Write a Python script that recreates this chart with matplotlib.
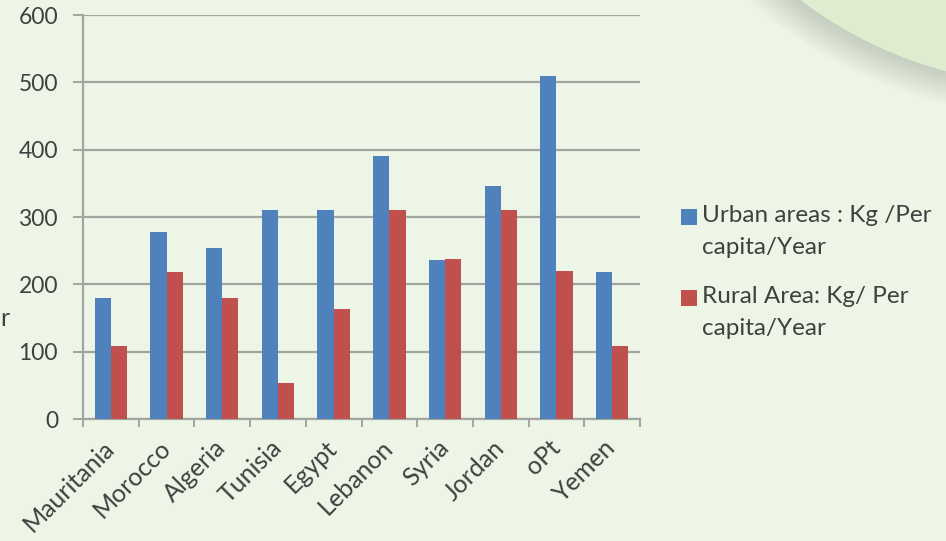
import matplotlib
matplotlib.use("Agg")
import matplotlib.pyplot as plt
import numpy as np
from matplotlib.patches import Circle, Rectangle

countries = ["Mauritania", "Morocco", "Algeria", "Tunisia", "Egypt",
             "Lebanon", "Syria", "Jordan", "oPt", "Yemen"]
urban = [180, 277, 254, 310, 310, 391, 236, 346, 510, 219]
rural = [109, 219, 180, 53, 163, 310, 238, 310, 220, 109]
series_names = ["Urban areas : Kg /Per\ncapita/Year",
                "Rural Area: Kg/ Per\ncapita/Year"]
yticks = [0, 100, 200, 300, 400, 500, 600]

blue = "#4f81bd"
red = "#c0504d"
bg = "#edf5e6"
txt = "#404040"
grid = "#a3a6a0"

plt.rcParams['font.family'] = ['Lato', 'DejaVu Sans']

W, H = 946, 541
fig = plt.figure(figsize=(W / 100, H / 100), dpi=100)
fig.patch.set_facecolor(bg)

# decorative circle top-right with soft shadow (display coords, origin bottom-left)
cx, cy, R = 1052, H + 330, 415
for i in range(14):
    r = R + 1 + i * 2.5
    fig.patches.append(Circle((cx - 3, cy + 3), r, transform=None,
                              facecolor="#8a9488", alpha=0.03,
                              edgecolor="none", zorder=0))
fig.patches.append(Circle((cx, cy), R, transform=None,
                          facecolor="#e0ecd0", edgecolor="none", zorder=0))

ax = fig.add_axes([83 / W, (H - 419) / H, (640 - 83) / W, (419 - 15) / H])
ax.set_facecolor("none")

x = np.arange(len(countries))
bw = 0.29
ax.bar(x - bw / 2, urban, bw, color=blue, label=series_names[0], zorder=3)
ax.bar(x + bw / 2, rural, bw, color=red, label=series_names[1], zorder=3)

ax.set_xlim(-0.5, len(countries) - 0.5)
ax.set_ylim(0, 600)
ax.set_yticks(yticks)
ax.set_yticklabels([str(v) for v in yticks], fontsize=16.5, color=txt)
ax.yaxis.grid(True, color=grid, linewidth=1.6, zorder=0)
ax.set_axisbelow(True)

ax.set_xticks(np.arange(-0.5, len(countries), 1.0))
ax.set_xticklabels([])
ax.set_xticks(x, minor=True)
ax.set_xticklabels(countries, minor=True, rotation=45, ha="right",
                   va="center", rotation_mode="anchor", fontsize=18,
                   color=txt)
ax.tick_params(axis="x", which="minor", length=0, pad=18)
ax.tick_params(axis="x", which="major", length=6, width=1.4, color=grid)
ax.tick_params(axis="y", length=7, width=1.4, color=grid, pad=11)

for s in ["top", "right"]:
    ax.spines[s].set_visible(False)
for s in ["left", "bottom"]:
    ax.spines[s].set_color(grid)
    ax.spines[s].set_linewidth(1.6)

# legend: square aligned with the first line of each two-line label
legend_colors = [blue, red]
legend_tops = [217, 298]  # y (px from top) of first-line centre
for name, col, yc in zip(series_names, legend_colors, legend_tops):
    fig.patches.append(Rectangle((681, H - yc - 8), 16, 16, transform=None,
                                 facecolor=col, edgecolor="none", zorder=5))
    fig.text(702 / W, 1 - (yc - 12) / H, name, fontsize=17.5, color=txt,
             ha="left", va="top", linespacing=1.65)

fig.text(0.5 / W, 1 - 318 / H, "r", fontsize=18, color=txt,
         ha="left", va="center")

fig.savefig("out.png", dpi=100, facecolor=bg)
